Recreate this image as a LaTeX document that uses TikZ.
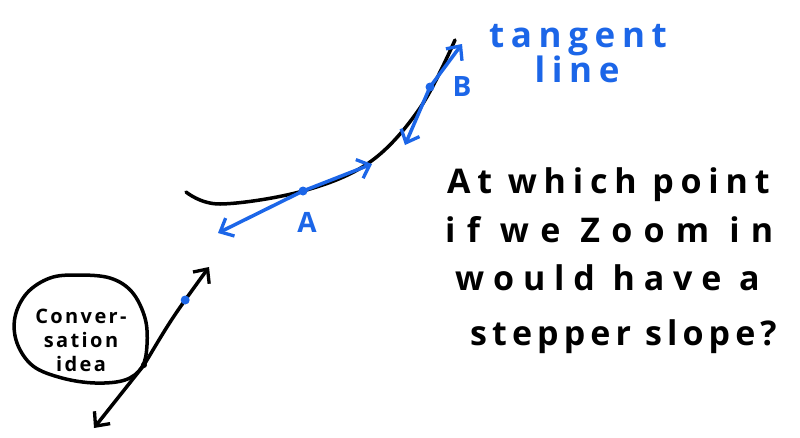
\documentclass[tikz,border=0pt]{standalone}
\usepackage{fontspec}
\setmainfont{Open Sans}
\newfontfamily\hand{Open Sans}
\usetikzlibrary{arrows.meta}
\definecolor{pen}{RGB}{28,102,232}
\begin{document}
\begin{tikzpicture}[x=1pt,y=-1pt,
  ink/.style={line width=3.5pt,line cap=round,line join=round},
  blueink/.style={ink,pen},
  twoway/.style={{Straight Barb[length=11pt,width=20pt,line width=3.3pt]}-{Straight Barb[length=11pt,width=20pt,line width=3.3pt]}},
  oneway/.style={-{Straight Barb[length=11pt,width=20pt,line width=3.3pt]}},
  dot/.style={circle,fill=pen,inner sep=0pt,minimum size=9pt},
  bdot/.style={circle,fill=black,inner sep=0pt,minimum size=6pt},
  qtext/.style={anchor=base west,inner sep=0pt,font=\hand\bfseries\fontsize{34}{34}\selectfont},
  ltext/.style={anchor=base,inner sep=0pt,text=pen,font=\hand\bfseries\fontsize{35}{35}\selectfont\addfontfeature{LetterSpace=19}},
  lab/.style={anchor=base,inner sep=0pt,text=pen,font=\hand\bfseries\fontsize{28}{28}\selectfont}]
\useasboundingbox (0,0) rectangle (800,437);
\fill[white] (0,0) rectangle (800,437);
% curve
\draw[ink] plot[smooth,tension=0.6] coordinates {(186,192) (220,204) (303,191) (370,162) (420,108) (455,40)};
% tangent at A
\coordinate (A) at (303,191);
\coordinate (A1) at (218,233);
\coordinate (A2) at (372,164);
\draw[blueink,twoway] (A1) -- (A) -- (A2);
\node[dot] (Ad) at (A) {};
\node[lab] (Alab) at (307,232) {A};
% tangent at B
\coordinate (B) at (430,87);
\coordinate (B1) at (462,44);
\coordinate (B2) at (405,145);
\draw[blueink,twoway] (B2) -- (B) -- (B1);
\node[dot] (Bd) at (B) {};
\node[lab] (Blab) at (462,96) {B};
% tangent line label
\node[ltext] (t1) at (578,47) {tangent};
\node[ltext] (t2) at (577,82) {line};
% question
\node[qtext] (q1) at (447,193) {\addfontfeature{LetterSpace=20}At which point};
\node[qtext] (q2) at (445,242) {\addfontfeature{LetterSpace=33}if we Zoom in};
\node[qtext] (q3) at (455,290) {\addfontfeature{LetterSpace=26}would have a};
\node[qtext] (q4) at (470,345) {\addfontfeature{LetterSpace=15}stepper slope?};
% conversation idea
\draw[ink] plot[smooth cycle,tension=0.6] coordinates {(77,275) (110,278) (132,292) (145,318) (147,345) (142,367) (125,380) (95,383) (62,378) (33,366) (17,343) (15,317) (27,293) (50,278)};
\node[align=center,inner sep=0pt,font=\hand\bfseries\fontsize{20}{24}\selectfont\addfontfeature{LetterSpace=12}] (conv) at (81,340) {Conver-\\sation\\idea};
\coordinate (C1) at (209,267);
\coordinate (C) at (144,365);
\coordinate (C2) at (94,428);
\draw[ink,oneway] (C) .. controls (120,395) .. (C2);
\draw[ink,oneway] (C) .. controls (172,318) .. coordinate[pos=0.72] (Cbpos) (C1);
\node[bdot] (Cd) at (C) {};
\node[dot] (Cb) at (Cbpos) {};
\end{tikzpicture}
\end{document}
